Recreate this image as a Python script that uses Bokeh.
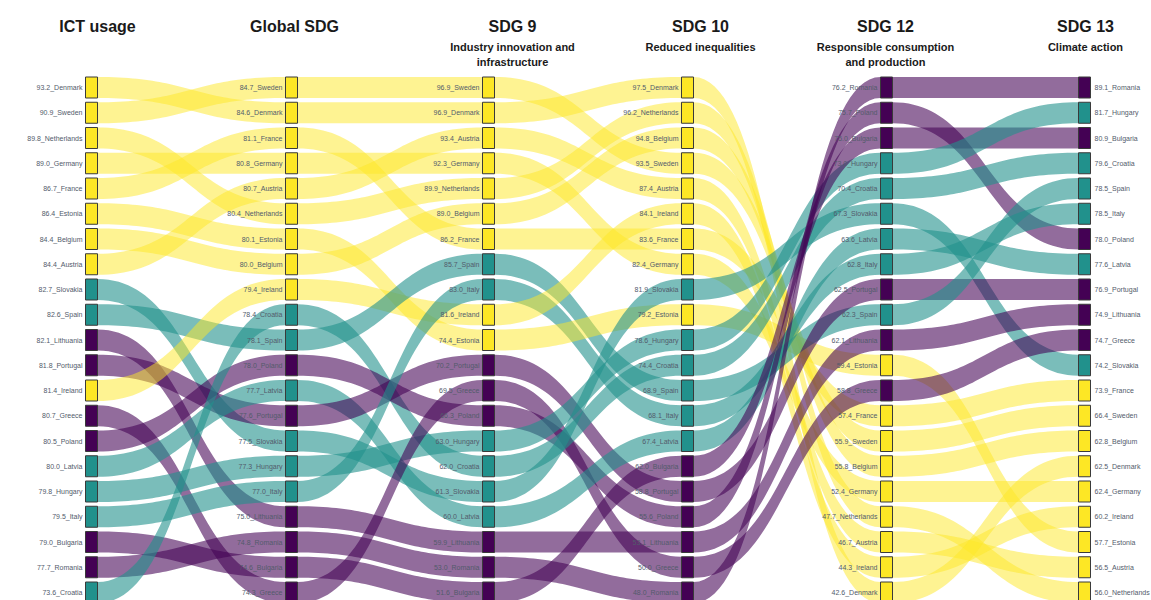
import numpy as np
from bokeh.plotting import figure
from bokeh.models import Range1d, ColumnDataSource
from bokeh.embed import file_html
from bokeh.resources import INLINE
from bokeh.core.properties import value

# ---------------- data ----------------
col_titles = ["ICT usage", "Global SDG", "SDG 9", "SDG 10", "SDG 12", "SDG 13"]
col_subtitles = [[], [], ["Industry innovation and", "infrastructure"],
                 ["Reduced inequalities"],
                 ["Responsible consumption", "and production"],
                 ["Climate action"]]

ict_countries = ["Denmark", "Sweden", "Netherlands", "Germany", "France", "Estonia", "Belgium",
                 "Austria", "Slovakia", "Spain", "Lithuania", "Portugal", "Ireland", "Greece",
                 "Poland", "Latvia", "Hungary", "Italy", "Bulgaria", "Romania", "Croatia"]
ict_values = [93.2, 90.9, 89.8, 89.0, 86.7, 86.4, 84.4, 84.4, 82.7, 82.6, 82.1, 81.8, 81.4,
              80.7, 80.5, 80.0, 79.8, 79.5, 79.0, 77.7, 73.6]

global_countries = ["Sweden", "Denmark", "France", "Germany", "Austria", "Netherlands", "Estonia",
                    "Belgium", "Ireland", "Croatia", "Spain", "Poland", "Latvia", "Portugal",
                    "Slovakia", "Hungary", "Italy", "Lithuania", "Romania", "Bulgaria", "Greece"]
global_values = [84.7, 84.6, 81.1, 80.8, 80.7, 80.4, 80.1, 80.0, 79.4, 78.4, 78.1, 78.0, 77.7,
                 77.6, 77.5, 77.3, 77.0, 75.0, 74.8, 74.6, 74.3]

sdg9_countries = ["Sweden", "Denmark", "Austria", "Germany", "Netherlands", "Belgium", "France",
                  "Spain", "Italy", "Ireland", "Estonia", "Portugal", "Greece", "Poland", "Hungary",
                  "Croatia", "Slovakia", "Latvia", "Lithuania", "Romania", "Bulgaria"]
sdg9_values = [96.9, 96.9, 93.4, 92.3, 89.9, 89.0, 86.2, 85.7, 83.0, 81.6, 74.4, 70.2, 69.5,
               66.3, 63.0, 62.0, 61.3, 60.0, 59.9, 53.0, 51.6]

sdg10_countries = ["Denmark", "Netherlands", "Belgium", "Sweden", "Austria", "Ireland", "France",
                   "Germany", "Slovakia", "Estonia", "Hungary", "Croatia", "Spain", "Italy",
                   "Latvia", "Bulgaria", "Portugal", "Poland", "Lithuania", "Greece", "Romania"]
sdg10_values = [97.5, 96.2, 94.8, 93.5, 87.4, 84.1, 83.6, 82.4, 81.9, 79.2, 78.6, 74.4, 68.9,
                68.1, 67.4, 62.0, 58.8, 55.6, 53.1, 50.0, 48.0]

sdg12_countries = ["Romania", "Poland", "Bulgaria", "Hungary", "Croatia", "Slovakia", "Latvia",
                   "Italy", "Portugal", "Spain", "Lithuania", "Estonia", "Greece", "France",
                   "Sweden", "Belgium", "Germany", "Netherlands", "Austria", "Ireland", "Denmark"]
sdg12_values = [76.2, 75.7, 75.0, 73.0, 70.4, 67.3, 63.6, 62.8, 62.5, 62.3, 62.1, 59.4, 58.8,
                57.4, 55.9, 55.8, 52.4, 47.7, 46.7, 44.3, 42.6]

sdg13_countries = ["Romania", "Hungary", "Bulgaria", "Croatia", "Spain", "Italy", "Poland",
                   "Latvia", "Portugal", "Lithuania", "Greece", "Slovakia", "France", "Sweden",
                   "Belgium", "Denmark", "Germany", "Ireland", "Estonia", "Austria", "Netherlands"]
sdg13_values = [89.1, 81.7, 80.9, 79.6, 78.5, 78.5, 78.0, 77.6, 76.9, 74.9, 74.7, 74.2, 73.9,
                66.4, 62.8, 62.5, 62.4, 60.2, 57.7, 56.5, 56.0]

group_yellow = ["Denmark", "Sweden", "Netherlands", "Germany", "France", "Estonia", "Belgium",
                "Austria", "Ireland"]
group_teal = ["Slovakia", "Spain", "Latvia", "Hungary", "Italy", "Croatia"]
group_purple = ["Lithuania", "Portugal", "Greece", "Poland", "Bulgaria", "Romania"]

# ---------------- styles / layout ----------------
columns = [(ict_countries, ict_values), (global_countries, global_values),
           (sdg9_countries, sdg9_values), (sdg10_countries, sdg10_values),
           (sdg12_countries, sdg12_values), (sdg13_countries, sdg13_values)]

node_color, link_alpha = {}, {}
for c in group_yellow:
    node_color[c] = "#FDE725"
    link_alpha[c] = 0.5
for c in group_teal:
    node_color[c] = "#21918C"
    link_alpha[c] = 0.6
for c in group_purple:
    node_color[c] = "#440154"
    link_alpha[c] = 0.58

node_left = [85, 285, 482, 681, 880, 1078]
node_w = 12
top0 = 76.5
pitch = 25.25
node_h = 21.0


def y_top(rank):
    return top0 + rank * pitch


W, H = 1151, 600
p = figure(width=W, height=H, output_backend="svg", toolbar_location=None,
           x_range=Range1d(0, W), y_range=Range1d(H, 0),
           min_border=0, outline_line_color=None)
p.xaxis.visible = False
p.yaxis.visible = False
p.xgrid.visible = False
p.ygrid.visible = False
p.background_fill_color = "white"
p.border_fill_color = "white"

# ---------------- links ----------------
t = np.linspace(0, 1, 50)
b0 = (1 - t) ** 3 + 3 * (1 - t) ** 2 * t
b1 = 3 * (1 - t) * t ** 2 + t ** 3
xs_all, ys_all, cols_all, al_all = [], [], [], []
for k in range(len(columns) - 1):
    ca, _ = columns[k]
    cb, _ = columns[k + 1]
    x0 = node_left[k] + node_w
    x1 = node_left[k + 1]
    xm = (x0 + x1) / 2
    bx = x0 * (1 - t) ** 3 + 3 * xm * (1 - t) ** 2 * t + 3 * xm * (1 - t) * t ** 2 + x1 * t ** 3
    for ra, country in enumerate(ca):
        rb = cb.index(country)
        ya = y_top(ra)
        yb = y_top(rb)
        top = ya * b0 + yb * b1
        bot = (ya + node_h) * b0 + (yb + node_h) * b1
        xs_all.append(list(bx) + list(bx[::-1]))
        ys_all.append(list(top) + list(bot[::-1]))
        cols_all.append(node_color[country])
        al_all.append(link_alpha[country])

p.patches(xs="xs", ys="ys",
          source=ColumnDataSource(dict(xs=xs_all, ys=ys_all, c=cols_all, a=al_all)),
          fill_color="c", fill_alpha="a", line_color=None)

# ---------------- nodes & labels ----------------
for k, (countries, vals) in enumerate(columns):
    ranks = np.arange(len(countries))
    tops = [y_top(r) for r in ranks]
    bots = [y_top(r) + node_h for r in ranks]
    mids = [y_top(r) + node_h / 2 for r in ranks]
    src = ColumnDataSource(dict(
        left=[node_left[k]] * len(countries), right=[node_left[k] + node_w] * len(countries),
        top=tops, bottom=bots, mid=mids,
        color=[node_color[c] for c in countries],
        label=["%.1f_%s" % (v, c) for v, c in zip(vals, countries)]))
    p.quad(left="left", right="right", top="top", bottom="bottom", source=src,
           fill_color="color", line_color="#3a3a3a", line_width=1)
    if k < len(columns) - 1:
        lx = node_left[k] - 3
        align = "right"
    else:
        lx = node_left[k] + node_w + 4
        align = "left"
    src.data["lx"] = [lx] * len(countries)
    p.text(x="lx", y="mid", text="label", source=src, text_align=align,
           text_baseline="middle", text_font=value("Liberation Sans"),
           text_font_size="7px", text_color="#525b6b")

# ---------------- titles ----------------
title_x = [97, 294, 512, 700, 885, 1085]
for k, ttl in enumerate(col_titles):
    p.text(x=[title_x[k]], y=[26], text=[ttl], text_align="center", text_baseline="middle",
           text_font=value("Liberation Sans"), text_font_style="bold",
           text_font_size="16px", text_color="#1a1a1a")
    for j, sub in enumerate(col_subtitles[k]):
        p.text(x=[title_x[k]], y=[46 + 15 * j], text=[sub], text_align="center",
               text_baseline="middle", text_font=value("Liberation Sans"),
               text_font_style="bold", text_font_size="11px", text_color="#1a1a1a")

open("out.html", "w").write(file_html(p, INLINE))
